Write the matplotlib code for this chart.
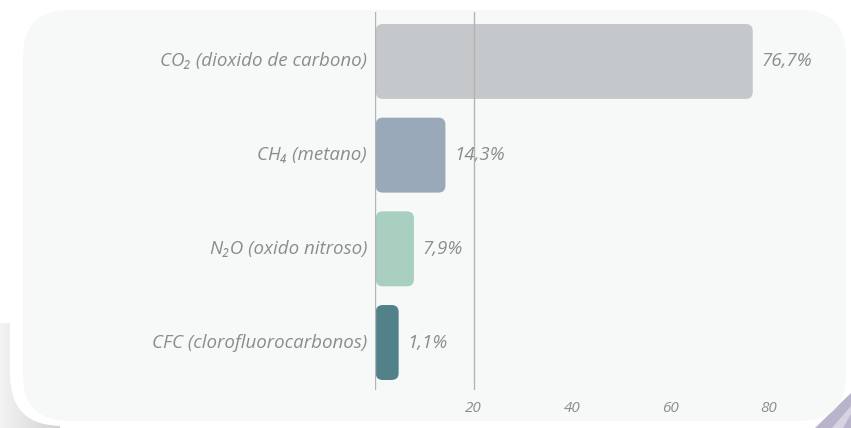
import numpy as np
import matplotlib.pyplot as plt
from matplotlib.patches import FancyBboxPatch, Polygon

# data
labels = ['CO₂ (dioxido de carbono)', 'CH₄ (metano)', 'N₂O (oxido nitroso)', 'CFC (clorofluorocarbonos)']
values = [76.7, 14.3, 7.9, 1.1]
value_labels = ['76,7%', '14,3%', '7,9%', '1,1%']
colors = ['#c5c8ca', '#9aa9ba', '#a9cfc1', '#52818a']
xticks = [20, 40, 60, 80]

FONT = ['Open Sans', 'DejaVu Sans']
TXT = '#8c8c8c'

W, H = 851, 428
fig = plt.figure(figsize=(W / 100, H / 100), dpi=100)
fig.patch.set_facecolor('white')

# background decoration in pixel coordinates
bg = fig.add_axes([0, 0, 1, 1], zorder=0)
bg.axis('off')

grad = np.linspace(0.95, 0.82, 60).reshape(1, -1)
bg.imshow(np.repeat(grad, 10, axis=0), cmap='gray', vmin=0, vmax=1,
          extent=(0, 60, 428, 323), aspect='auto', zorder=0)
bg.add_patch(FancyBboxPatch((10, -60), 900, 486, boxstyle='round,pad=0,rounding_size=52',
                            fc='white', ec='none', zorder=1))
bg.add_patch(Polygon([(815, 428), (851, 393), (851, 428)], closed=True,
                     fc='#bab3cc', ec='none', zorder=1))
bg.add_patch(Polygon([(832, 428), (851, 406), (851, 414), (843, 428)], closed=True,
                     fc='#d8d3e3', ec='none', zorder=1))
bg.add_patch(FancyBboxPatch((23, 10), 823, 411, boxstyle='round,pad=0,rounding_size=46',
                            fc='#f7f9f9', ec='none', zorder=2))
bg.set_xlim(0, W)
bg.set_ylim(H, 0)

# main chart axes: x=0 at 375px, 20 units = 98.5 px
px_per_x = 98.5 / 20
x_max = 95
left, top, bottom = 375, 12, 390
ax = fig.add_axes([left / W, 1 - bottom / H, x_max * px_per_x / W, (bottom - top) / H], zorder=1)
ax.patch.set_alpha(0)
ax.set_xlim(0, x_max)
ylo, yhi = -0.528, 3.507
ax.set_ylim(yhi, ylo)
px_per_y = (bottom - top) / (yhi - ylo)

r = 7 / px_per_x  # corner radius in x units
bar_h = 0.8
min_w = 4.8  # very short bars still show their rounded ends
for i, (v, c) in enumerate(zip(values, colors)):
    w = max(v, min_w)
    ax.add_patch(FancyBboxPatch((0.15, i - bar_h / 2), w - 0.15, bar_h,
                                boxstyle=f'round,pad=0,rounding_size={r}',
                                mutation_aspect=px_per_x / px_per_y,
                                fc=c, ec='none', zorder=2))
    ax.text(w + 1.7, i, value_labels[i], ha='left', va='center', fontsize=13.5,
            style='italic', color=TXT, family=FONT, zorder=4)
    ax.text(-1.6, i, labels[i], ha='right', va='center', fontsize=13.5,
            style='italic', color=TXT, family=FONT, zorder=4)

for xv in [0, 20]:
    ax.axvline(xv, color='#b3b3b3', lw=1, zorder=5)

ax.set_xticks(xticks)
ax.set_xticklabels([str(t) for t in xticks], fontsize=11, style='italic', color=TXT, family=FONT)
ax.tick_params(axis='x', length=0, pad=8)
ax.set_yticks([])
for s in ax.spines.values():
    s.set_visible(False)

fig.savefig('out.png', dpi=100)
